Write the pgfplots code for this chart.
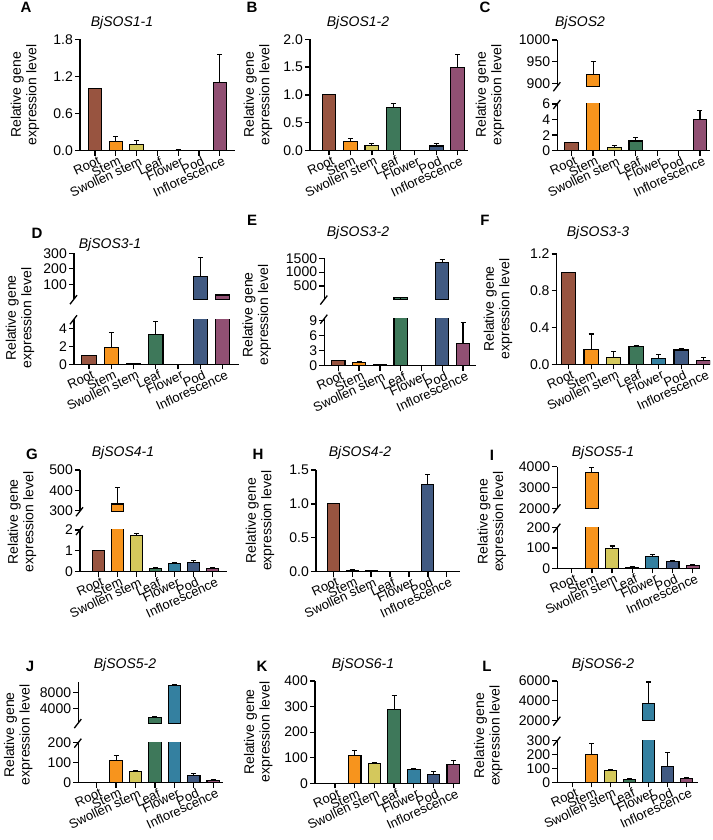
\documentclass[border=0pt]{standalone}
\usepackage{fontspec}
\setmainfont{Liberation Sans}
\usepackage{pgfplots}
\pgfplotsset{compat=1.18}
\definecolor{c0}{RGB}{152,84,64}
\definecolor{c1}{RGB}{247,148,29}
\definecolor{c2}{RGB}{212,200,92}
\definecolor{c3}{RGB}{62,120,90}
\definecolor{c4}{RGB}{52,128,160}
\definecolor{c5}{RGB}{65,90,130}
\definecolor{c6}{RGB}{145,80,115}
\pgfplotsset{
  pan/.style={scale only axis, anchor=south west,
    axis x line*=bottom, axis y line*=left,
    axis line style={line width=1.3pt, -},
    tick align=outside, major tick length=5pt,
    tick style={line width=1.3pt, black},
    xtick={0,...,6},
    xticklabels={Root,Stem,Swollen stem,Leaf,Flower,Pod,Inflorescence},
    xticklabel style={rotate=25, anchor=north east, font=\fontsize{13}{13}\selectfont, inner sep=1pt, xshift=3pt},
    yticklabel style={font=\fontsize{14}{14}\selectfont, inner sep=2pt},
    /pgf/number format/assume math mode=true,
    /pgf/number format/1000 sep={},
    scaled y ticks=false, minor tick num=0},
  up/.style={pan, axis x line=none, xtick=\empty},
  dec/.style={yticklabel style={/pgf/number format/fixed, /pgf/number format/fixed zerofill, /pgf/number format/precision=1}},
  bb/.style={ybar, bar shift=0pt, bar width=0.64, draw=black, line width=1.1pt,
    error bars/y dir=plus, error bars/y explicit,
    error bars/error bar style={line width=1.1pt, black},
    error bars/error mark options={rotate=90, mark size=2.5pt, line width=1.1pt, black}},
}
\newcommand\BR[3]{\addplot[bb, fill=c#1] coordinates {(#1,#2) +- (0,#3)};}
\newcommand\brk[1]{\draw[line width=1.3pt] ([shift={(-4pt,-5pt)}]#1) -- ([shift={(3pt,4pt)}]#1);}
\newcommand\ylab[1]{\node[rotate=90, align=center, font=\fontsize{14}{15.5}\selectfont] at (#1) {Relative gene\\expression level};}
\newcommand\ttl[2]{\node[font=\fontsize{14}{16}\selectfont\itshape] at (#1) {#2};}
\newcommand\letter[2]{\node[font=\fontsize{15}{16}\selectfont\bfseries] at (#1) {#2};}
\begin{document}
\begin{tikzpicture}[x=1pt,y=1pt]
\path[use as bounding box] (0,0) rectangle (712,840);
% ---------- A
\begin{axis}[pan, dec, at={(80pt,689.3pt)}, width=155.4pt, height=111.4pt, xmin=-0.72, xmax=6.75, ymin=0, ymax=1.8, ytick={0,0.6,1.2,1.8}]
\BR0{1.0}{0}\BR1{0.145}{0.08}\BR2{0.10}{0.07}\BR3{0.005}{0}\BR4{0.008}{0.01}\BR5{0.004}{0}\BR6{1.10}{0.45}
\end{axis}
\ylab{25,745}\ttl{122,817}{BjSOS1-1}\letter{26,833}{A}
% ---------- B
\begin{axis}[pan, dec, at={(310pt,689.5pt)}, width=158.4pt, height=111.2pt, xmin=-0.886, xmax=6.5, ymin=0, ymax=2, ytick={0,0.5,1,1.5,2}]
\BR0{1.0}{0}\BR1{0.16}{0.05}\BR2{0.09}{0.03}\BR3{0.78}{0.06}\BR4{0.005}{0}\BR5{0.08}{0.05}\BR6{1.50}{0.23}
\end{axis}
\ylab{258,745}\ttl{358,817}{BjSOS1-2}\letter{252,833}{B}
% ---------- C
\begin{axis}[pan, name=Cl, at={(557.3pt,689.3pt)}, width=152.3pt, height=46.7pt, xmin=-0.673, xmax=6.45, ymin=0, ymax=6, ytick={0,2,4,6}]
\BR0{1.0}{0.1}\BR1{921}{30}\BR2{0.45}{0.2}\BR3{1.25}{0.4}\BR4{0.05}{0}\BR5{0.05}{0}\BR6{4.0}{1.15}
\end{axis}
\begin{axis}[up, name=Cu, at={(557.3pt,753.7pt)}, width=152.3pt, height=46.3pt, xmin=-0.673, xmax=6.45, ymin=893, ymax=1000, ytick={900,950,1000}]
\BR1{921}{30}
\end{axis}
\brk{Cl.north west}\brk{Cu.south west}
\ylab{490,745}\ttl{580,817}{BjSOS2}\letter{485,833}{C}
% ---------- D
\begin{axis}[pan, name=Dl, at={(74pt,475.7pt)}, width=165.4pt, height=45pt, xmin=-0.673, xmax=6.75, ymin=0, ymax=5, ytick={0,2,4}]
\BR0{1.0}{0}\BR1{1.85}{1.7}\BR2{0.05}{0}\BR3{3.35}{1.45}\BR4{0}{0}\BR5{150}{124}\BR6{31}{4}
\end{axis}
\begin{axis}[up, name=Du, at={(74pt,540.8pt)}, width=165.4pt, height=45.9pt, xmin=-0.673, xmax=6.75, ymin=4, ymax=300, ytick={100,200,300}]
\BR5{150}{124}\BR6{31}{4}
\end{axis}
\brk{Dl.north west}\brk{Du.south west}
\ylab{20,522}\ttl{110,595}{BjSOS3-1}\letter{37,607}{D}
% ---------- E
\begin{axis}[pan, name=El, at={(324.3pt,474.3pt)}, width=151.2pt, height=47pt, xmin=-0.674, xmax=6.6, ymin=0, ymax=9.4, ytick={0,3,6,9}]
\BR0{1.0}{0.1}\BR1{0.6}{0.3}\BR2{0.2}{0.1}\BR3{70}{10}\BR4{0.05}{0}\BR5{1360}{90}\BR6{4.5}{4.1}
\end{axis}
\begin{axis}[up, name=Eu, at={(324.3pt,540.4pt)}, width=151.2pt, height=41.3pt, xmin=-0.674, xmax=6.6, ymin=10, ymax=1500, ytick={500,1000,1500}]
\BR3{70}{10}\BR5{1360}{90}
\end{axis}
\brk{El.north west}\brk{Eu.south west}
\ylab{256.7,525}\ttl{358,607}{BjSOS3-2}\letter{252,620}{E}
% ---------- F
\begin{axis}[pan, dec, at={(556.7pt,475.7pt)}, width=153.3pt, height=110.3pt, xmin=-0.533, xmax=6.28, ymin=0, ymax=1.2, ytick={0,0.4,0.8,1.2}]
\BR0{1.0}{0}\BR1{0.16}{0.17}\BR2{0.075}{0.065}\BR3{0.19}{0.01}\BR4{0.065}{0.045}\BR5{0.155}{0.02}\BR6{0.04}{0.03}
\end{axis}
\ylab{498,531}\ttl{598,607}{BjSOS3-3}\letter{485,620}{F}
% ---------- G
\begin{axis}[pan, name=Gl, at={(80pt,268.3pt)}, width=147pt, height=41.7pt, xmin=-0.96, xmax=6.75, ymin=0, ymax=2, ytick={0,1,2}]
\BR0{1.0}{0}\BR1{333}{80}\BR2{1.72}{0.12}\BR3{0.15}{0.04}\BR4{0.38}{0.04}\BR5{0.42}{0.1}\BR6{0.16}{0.02}
\end{axis}
\begin{axis}[up, name=Gu, at={(80pt,328.7pt)}, width=147pt, height=41.3pt, xmin=-0.96, xmax=6.75, ymin=297, ymax=500, ytick={300,400,500}]
\BR1{333}{80}
\end{axis}
\brk{Gl.north west}\brk{Gu.south west}
\ylab{22,318}\ttl{123,387}{BjSOS4-1}\letter{32,386}{G}
% ---------- H
\begin{axis}[pan, dec, at={(316pt,268.3pt)}, width=144pt, height=101.7pt, xmin=-0.915, xmax=6.7, ymin=0, ymax=1.5, ytick={0,0.5,1,1.5}]
\BR0{1.0}{0}\BR1{0.02}{0.01}\BR2{0.01}{0.01}\BR3{0}{0}\BR4{0}{0}\BR5{1.28}{0.16}\BR6{0}{0}
\end{axis}
\ylab{260,319.2}\ttl{360,387}{BjSOS4-2}\letter{258,386}{H}
% ---------- I
\begin{axis}[pan, name=Il, at={(557.3pt,271.7pt)}, width=142.7pt, height=40.6pt, xmin=-0.714, xmax=6.36, ymin=0, ymax=200, ytick={0,100,200}]
\BR0{0.5}{0}\BR1{3720}{230}\BR2{98}{12}\BR3{6}{1}\BR4{60}{6}\BR5{32}{4}\BR6{15}{4}
\end{axis}
\begin{axis}[up, name=Iu, at={(557.3pt,331.7pt)}, width=142.7pt, height=41.6pt, xmin=-0.714, xmax=6.36, ymin=2000, ymax=4000, ytick={2000,3000,4000}]
\BR1{3720}{230}
\end{axis}
\brk{Il.north west}\brk{Iu.south west}
\ylab{491.7,318.3}\ttl{603,387}{BjSOS5-1}\letter{492,385}{I}
% ---------- J
\begin{axis}[pan, name=Jl, at={(78.3pt,57.3pt)}, width=145pt, height=40pt, xmin=-0.947, xmax=6.52, ymin=0, ymax=200, ytick={0,100,200}]
\BR0{0.5}{0}\BR1{110}{28}\BR2{55}{5}\BR3{1600}{400}\BR4{9950}{120}\BR5{38}{6}\BR6{13}{3}
\end{axis}
\begin{axis}[up, name=Ju, at={(78.3pt,116.9pt)}, width=145pt, height=41.3pt, xmin=-0.947, xmax=6.52, ymin=200, ymax=10800, ytick={4000,8000}]
\BR3{1600}{400}\BR4{9950}{120}
\end{axis}
\brk{Jl.north west}\brk{Ju.south west}
\ylab{18.3,105}\ttl{125,175}{BjSOS5-2}\letter{30,174}{J}
% ---------- K
\begin{axis}[pan, at={(315pt,56.7pt)}, width=145pt, height=102.3pt, xmin=-1.01, xmax=6.34, ymin=0, ymax=400, ytick={0,100,200,300,400}]
\BR0{0.5}{0}\BR1{110}{18}\BR2{77}{3}\BR3{289}{56}\BR4{53}{3}\BR5{33}{13}\BR6{72}{18}
\end{axis}
\ylab{258.3,108}\ttl{363,175}{BjSOS6-1}\letter{262,174}{K}
% ---------- L
\begin{axis}[pan, name=Ll, at={(557.3pt,57.7pt)}, width=141pt, height=41.6pt, xmin=-0.81, xmax=6.61, ymin=0, ymax=300, ytick={0,100,200,300}]
\BR0{0.5}{0}\BR1{198}{84}\BR2{82}{7}\BR3{22}{5}\BR4{3700}{2200}\BR5{113}{102}\BR6{29}{5}
\end{axis}
\begin{axis}[up, name=Lu, at={(557.3pt,119.3pt)}, width=141pt, height=39.7pt, xmin=-0.81, xmax=6.61, ymin=2000, ymax=6000, ytick={2000,4000,6000}]
\BR4{3700}{2200}
\end{axis}
\brk{Ll.north west}\brk{Lu.south west}
\ylab{488.3,104.3}\ttl{603,175}{BjSOS6-2}\letter{487,174}{L}
\end{tikzpicture}
\end{document}
